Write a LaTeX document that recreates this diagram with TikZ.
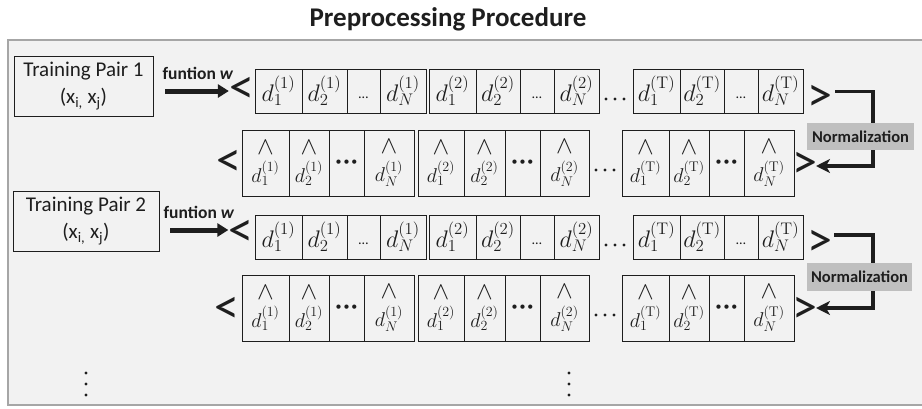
\RequirePackage{fix-cm}
\documentclass[tikz,border=0pt]{standalone}
\usepackage[no-math]{fontspec}
\setmainfont{Carlito}
\usetikzlibrary{arrows.meta}
\definecolor{panelbg}{HTML}{F2F2F2}
\definecolor{panelline}{HTML}{A6A6A6}
\definecolor{normbg}{HTML}{BFBFBF}
\definecolor{ink}{HTML}{1E1E1E}

% the hat mark set above a normalised entry
\newcommand\hatmark{{\fontsize{25}{25}\selectfont$\wedge$}}

% a row of plain entries: #1 name prefix, #2 centre y
\newcommand\plainrow[2]{%
  \foreach \g/\xa/\xb/\xc/\xd/\xe/\s in {1/255/302/347/380/426/{(1)},2/429/476/520/554/599/{(2)},3/633/680/724/758/803/{(\mathrm{T})}}{%
    \node[dcell, minimum width={(\xb-\xa)*1pt}] (#1g\g c1) at (\xa,#2) {$d^{\s}_{1}$};
    \node[dcell, minimum width={(\xc-\xb)*1pt}] (#1g\g c2) at (\xb,#2) {$d^{\s}_{2}$};
    \node[dcell, minimum width={(\xd-\xc)*1pt}] (#1g\g c3) at (\xc,#2) {\raisebox{-7pt}[0pt][0pt]{\fontsize{14}{14}\selectfont …}};
    \node[dcell, minimum width={(\xe-\xd)*1pt}] (#1g\g c4) at (\xd,#2) {$d^{\s}_{N}$};
  }%
  \foreach \k in {0,1,2}{\fill[ink] (606+\k*9,#2+8) circle (1.6);}%
}

% a row of normalised (hatted) entries: #1 name prefix, #2 centre y
\newcommand\hatrow[2]{%
  \foreach \g/\xa/\xb/\xc/\xd/\xe/\s in {1/242/289/329/364/414/{(1)},2/418/464/505/540/589/{(2)},3/622/669/709/744/794/{(\mathrm{T})}}{%
    \node[hcell, minimum width={(\xb-\xa)*1pt}] (#1g\g c1) at (\xa,#2) {\hatmark\\$d^{\s}_{1}$};
    \node[hcell, minimum width={(\xc-\xb)*1pt}] (#1g\g c2) at (\xb,#2) {\hatmark\\$d^{\s}_{2}$};
    \node[hcell, minimum width={(\xd-\xc)*1pt}] (#1g\g c3) at (\xc,#2) {\fontsize{12}{12}\selectfont •\hspace{2pt}•\hspace{2pt}•};
    \node[hcell, minimum width={(\xe-\xd)*1pt}] (#1g\g c4) at (\xd,#2) {\hatmark\\$d^{\s}_{N}$};
  }%
  \foreach \k in {0,1,2}{\fill[ink] (596+\k*9,#2+7) circle (1.6);}%
}

\begin{document}
\begin{tikzpicture}[x=1pt,y=-1pt,
  dcell/.style={draw=ink, line width=1pt, inner sep=0pt, outer sep=0pt, anchor=west,
    minimum height=44pt, font=\fontsize{24}{26}\selectfont, text=ink},
  hcell/.style={draw=ink, line width=1pt, inner sep=0pt, outer sep=0pt, anchor=west,
    minimum height=66pt, align=center, font=\fontsize{20}{28}\selectfont, text=ink},
  pairbox/.style={draw=ink, line width=1pt, inner sep=0pt, align=center,
    minimum height=60pt, font=\fontsize{21}{27}\selectfont, text=ink},
  fnlabel/.style={font=\fontsize{17.5}{20}\selectfont\bfseries, text=ink, inner sep=0pt},
  angle/.style={font=\fontsize{50}{50}\selectfont, text=ink, inner sep=0pt},
  normbox/.style={fill=normbg, inner sep=0pt, font=\fontsize{16.5}{19}\selectfont\bfseries, text=ink},
  maparrow/.style={line width=5pt, draw=ink, -{Triangle[length=11pt,width=13pt]}},
  bracket/.style={line width=3.5pt, draw=ink},
  vdot/.style={fill=ink}]
\useasboundingbox (0,0) rectangle (922,408);
\clip (0,0) rectangle (922,408);

% title and panel
\node[font=\fontsize{27}{30}\selectfont\bfseries, text=ink] (title) at (448,19) {Preprocessing Procedure};
\draw[fill=panelbg, draw=panelline, line width=1.3pt] (8,40) rectangle (940,405);

% training pairs
\node[pairbox, minimum width=139pt] (pair1) at (83.5,86) {Training Pair 1\\(x\textsubscript{i,} x\textsubscript{j})};
\node[pairbox, minimum width=146pt] (pair2) at (86,221) {Training Pair 2\\(x\textsubscript{i,} x\textsubscript{j})};

% sequences
\plainrow{ra}{91}
\hatrow{rb}{163}
\plainrow{rc}{237}
\hatrow{rd}{308}

% sequence delimiters
\node[angle] (lt1) at (241.5,90) {<};
\node[angle] (gt1) at (819.5,98) {>};
\node[angle] (lt2) at (229,163) {<};
\node[angle] (gt2) at (805,165) {>};
\node[angle] (lt3) at (241,233) {<};
\node[angle] (gt3) at (819.5,243) {>};
\node[angle] (lt4) at (227,310) {<};
\node[angle] (gt4) at (805,310) {>};

% mapping arrows
\node[fnlabel] (fn1) at (198,73) {funtion \textit{w}};
\node[fnlabel] (fn2) at (199,212) {funtion \textit{w}};
\coordinate (m1) at (165,91);
\coordinate (m2) at (170,230);
\draw[maparrow] (m1) -- (m1 -| lt1.west);
\draw[maparrow] (m2) -- (m2 -| lt3.west);

% normalization steps
\node[normbox, minimum width=107pt, minimum height=27pt] (norm1) at (860.5,136.5) {Normalization};
\node[normbox, minimum width=105pt, minimum height=28pt] (norm2) at (859.5,277) {Normalization};

\coordinate (b1s) at (835,91.5);
\coordinate (b1c) at (873,91.5);
\coordinate (b1e) at (816,166);
\draw[bracket] (b1s) -- (b1c) -- (b1c |- norm1.north);
\draw[bracket, -{Stealth[length=14pt,width=14pt,inset=4pt]}] (b1c |- norm1.south) |- (b1e);

\coordinate (b2s) at (834,235);
\coordinate (b2c) at (873,235);
\coordinate (b2e) at (816,308);
\draw[bracket] (b2s) -- (b2c) -- (b2c |- norm2.north);
\draw[bracket, -{Stealth[length=14pt,width=14pt,inset=4pt]}] (b2c |- norm2.south) |- (b2e);

% continuation marks
\foreach \yy in {373,384,395}{
  \fill[vdot] (86,\yy) circle (1.6);
  \fill[vdot] (569,\yy) circle (1.6);
}
\end{tikzpicture}
\end{document}
